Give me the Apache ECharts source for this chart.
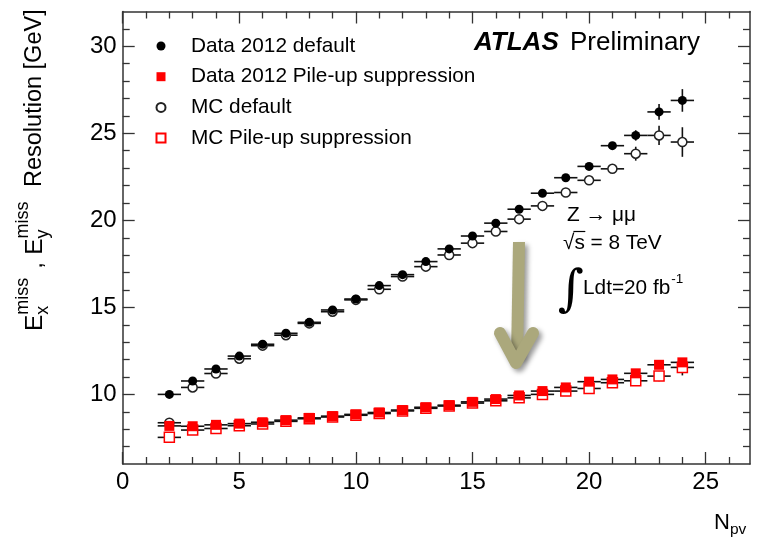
<!DOCTYPE html>
<html><head><meta charset="utf-8">
<script src="https://cdn.jsdelivr.net/npm/echarts@6/dist/echarts.min.js"></script>
<style>html,body{margin:0;padding:0;background:#fff}#c{width:757px;height:541px}</style>
</head><body><div id="c"></div>
<script>
// ---------- data ----------
const npv = [2,3,4,5,6,7,8,9,10,11,12,13,14,15,16,17,18,19,20,21,22,23,24];
const dataDefault = [10.0,10.77,11.46,12.2,12.88,13.51,14.14,14.85,15.48,16.25,16.88,17.63,18.36,19.1,19.84,20.64,21.56,22.45,23.1,24.29,24.88,26.23,26.89];
const dataDefaultErr = [0.08,0.08,0.08,0.08,0.08,0.08,0.08,0.08,0.08,0.08,0.08,0.08,0.08,0.08,0.08,0.1,0.1,0.1,0.15,0.2,0.3,0.45,0.65];
const mcDefault = [8.37,10.4,11.2,12.05,12.8,13.4,14.08,14.75,15.43,16.04,16.77,17.34,18.01,18.69,19.36,20.07,20.83,21.6,22.3,22.96,23.83,24.88,24.5];
const mcDefaultErr = [0.08,0.08,0.08,0.08,0.08,0.08,0.08,0.08,0.08,0.08,0.08,0.08,0.08,0.08,0.08,0.1,0.1,0.12,0.15,0.2,0.4,0.55,0.85];
const dataPU = [8.19,8.17,8.25,8.32,8.4,8.52,8.65,8.75,8.85,8.96,9.1,9.26,9.38,9.57,9.73,9.94,10.19,10.4,10.73,10.86,11.21,11.7,11.84];
const dataPUErr = [0.05,0.05,0.05,0.05,0.05,0.05,0.05,0.05,0.05,0.05,0.05,0.05,0.05,0.05,0.05,0.05,0.05,0.06,0.06,0.07,0.08,0.1,0.15];
const mcPU = [7.53,7.95,8.04,8.2,8.3,8.45,8.6,8.7,8.8,8.9,9.05,9.2,9.33,9.5,9.63,9.8,10.0,10.19,10.34,10.67,10.78,11.05,11.55];
const mcPUErr = [0.05,0.05,0.05,0.05,0.05,0.05,0.05,0.05,0.05,0.05,0.05,0.05,0.05,0.05,0.05,0.06,0.06,0.07,0.08,0.1,0.15,0.3,0.46];
const binHalfWidth = 0.5;
const xMajor = [0,5,10,15,20,25];
const xMinor = [1,2,3,4,6,7,8,9,11,12,13,14,16,17,18,19,21,22,23,24,26];
const yMajor = [10,15,20,25,30];
const yMinor = [7,8,9,11,12,13,14,16,17,18,19,21,22,23,24,26,27,28,29,31];
const seriesNames = ['Data 2012 default','Data 2012 Pile-up suppression','MC default','MC Pile-up suppression'];

// ---------- helpers ----------
const FONT = '"Liberation Sans", Arial, Helvetica, sans-serif';
const mctx = document.createElement('canvas').getContext('2d');
function tw(t, size, weight, style) {
  mctx.font = (style||'normal') + ' ' + (weight||'normal') + ' ' + size + 'px ' + FONT;
  return mctx.measureText(t).width;
}
function txt(t, x, y, size, opt) {
  opt = opt || {};
  return {
    type: 'text', x: x, y: y, silent: true,
    style: {
      text: t, fill: opt.fill || '#000',
      fontSize: size, fontFamily: opt.family || FONT,
      fontWeight: opt.weight || 'normal', fontStyle: opt.style || 'normal',
      align: opt.align || 'left', textAlign: opt.align || 'left',
      verticalAlign: 'middle', textVerticalAlign: 'middle'
    }
  };
}
// line of text with sub/superscripts
function richRow(parts) {
  let x = 0; const kids = [];
  parts.forEach(p => {
    if (p.gap) { x += p.gap; return; }
    if (p.stack) {
      let w = 0;
      p.stack.forEach(s => { kids.push(txt(s.t, x, s.dy, s.s)); w = Math.max(w, tw(s.t, s.s)); });
      x += w;
    } else {
      kids.push(txt(p.t, x, p.dy || 0, p.s));
      x += tw(p.t, p.s);
    }
  });
  return {kids, width: x};
}

function errSeries(ys, errs, color) {
  return {
    type: 'custom', silent: true, z: 1, xAxisIndex: 0, yAxisIndex: 0,
    encode: {x: 0, y: 1},
    data: npv.map((x, i) => [x, ys[i], errs[i]]),
    renderItem: function (params, api) {
      const x = api.value(0), y = api.value(1), e = api.value(2);
      const l = api.coord([x - binHalfWidth, y]), r = api.coord([x + binHalfWidth, y]);
      const t = api.coord([x, y + e]), b = api.coord([x, y - e]);
      return {type: 'group', children: [
        {type: 'line', shape: {x1: l[0], y1: l[1], x2: r[0], y2: r[1]}, style: {stroke: color, lineWidth: 1.6}},
        {type: 'line', shape: {x1: t[0], y1: t[1], x2: b[0], y2: b[1]}, style: {stroke: color, lineWidth: 1.6}}
      ]};
    }
  };
}
function pts(ys) { return npv.map((x, i) => [x, ys[i]]); }

const frameColor = '#333';
const X_MAX = 26.9, Y_MIN = 6, Y_MAX = 32;
function xAx(pos, ticks, len, showLine, labels) {
  return {
    type: 'value', gridIndex: 0, position: pos, min: 0, max: X_MAX,
    axisLine: {show: showLine, onZero: false, lineStyle: {color: frameColor, width: 1.5}},
    axisTick: {show: true, inside: true, length: len, customValues: ticks, lineStyle: {color: frameColor, width: 1.3}},
    axisLabel: labels ? {show: true, customValues: ticks, fontSize: 24, fontFamily: FONT, color: '#000', margin: 6} : {show: false},
    splitLine: {show: false}
  };
}
function yAx(pos, ticks, len, showLine, labels) {
  return {
    type: 'value', gridIndex: 0, position: pos, min: Y_MIN, max: Y_MAX,
    axisLine: {show: showLine, onZero: false, lineStyle: {color: frameColor, width: 1.5}},
    axisTick: {show: true, inside: true, length: len, customValues: ticks, lineStyle: {color: frameColor, width: 1.3}},
    axisLabel: labels ? {show: true, customValues: ticks, fontSize: 24, fontFamily: FONT, color: '#000', margin: 6} : {show: false},
    splitLine: {show: false}
  };
}

// ---------- y-axis title (rotated) ----------
const yTitle = richRow([
  {t: 'E', s: 24.5},
  {stack: [{t: 'miss', s: 18, dy: -12}, {t: 'x', s: 18, dy: 8}]},
  {gap: 9},
  {t: ',', s: 24.5},
  {gap: 7},
  {t: 'E', s: 24.5},
  {stack: [{t: 'miss', s: 18, dy: -12}, {t: 'y', s: 18, dy: 8}]},
  {gap: 8},
  {t: ' Resolution [GeV]', s: 23.5}
]);
const xTitle = richRow([
  {t: 'N', s: 22},
  {t: 'pv', s: 15.5, dy: 7}
]);

const arrowColor = '#aba87c';
const ANN = 20.8;
const sqrtW = tw('\u221A', ANN), sW = tw('s', ANN);
const ldtW = tw('Ldt=20 fb', ANN);

const option = {
  animation: false,
  backgroundColor: '#fff',
  grid: {left: 122.7, right: 7, top: 11.5, bottom: 77, containLabel: false},
  xAxis: [
    xAx('bottom', xMajor, 12, true, true),
    xAx('bottom', xMinor, 7, false, false),
    xAx('top', xMajor, 12, true, false),
    xAx('top', xMinor, 7, false, false)
  ],
  yAxis: [
    yAx('left', yMajor, 12, true, true),
    yAx('left', yMinor, 7, false, false),
    yAx('right', yMajor, 12, true, false),
    yAx('right', yMinor, 7, false, false)
  ],
  legend: {
    orient: 'vertical', left: 155.5, top: 35.5, padding: 0,
    itemWidth: 9, itemHeight: 9, itemGap: 9.7,
    selectedMode: false,
    textStyle: {fontSize: 20.8, fontFamily: FONT, color: '#000', lineHeight: 21, padding: [0, 0, 0, 20.5]},
    data: seriesNames
  },
  series: [
    errSeries(mcPU, mcPUErr, '#111'),
    errSeries(mcDefault, mcDefaultErr, '#111'),
    errSeries(dataPU, dataPUErr, '#111'),
    errSeries(dataDefault, dataDefaultErr, '#111'),
    {name: seriesNames[3], type: 'scatter', z: 2, symbol: 'rect', symbolSize: 10, data: pts(mcPU),
      itemStyle: {color: '#fff', borderColor: '#ff0000', borderWidth: 1.5, opacity: 1}},
    {name: seriesNames[2], type: 'scatter', z: 2, symbol: 'circle', symbolSize: 9, data: pts(mcDefault),
      itemStyle: {color: '#fff', borderColor: '#222', borderWidth: 1.5, opacity: 1}},
    {name: seriesNames[1], type: 'scatter', z: 2, symbol: 'rect', symbolSize: 10, data: pts(dataPU),
      itemStyle: {color: '#ff0000', opacity: 1}},
    {name: seriesNames[0], type: 'scatter', z: 2, symbol: 'circle', symbolSize: 9, data: pts(dataDefault),
      itemStyle: {color: '#000', opacity: 1}}
  ],
  graphic: [
    // y-axis title
    {type: 'group', x: 35, y: 331, rotation: Math.PI / 2, children: yTitle.kids},
    // x-axis title
    {type: 'group', x: 714, y: 523, children: xTitle.kids},
    // ATLAS Preliminary
    txt('ATLAS', 474, 42.5, 26, {weight: 'bold', style: 'italic'}),
    txt('Preliminary', 570, 42.5, 26),
    // annotations
    txt('Z \u2192 \u03BC\u03BC', 567, 215, ANN),
    txt('\u221As = 8 TeV', 563, 243, ANN),
    {type: 'line', silent: true, shape: {x1: 563 + sqrtW - 1, y1: 231.5, x2: 563 + sqrtW + sW + 0.5, y2: 231.5}, style: {stroke: '#000', lineWidth: 1.2}},
    txt('\u222B', 558, 292, 50, {family: '"DejaVu Serif", serif', style: 'italic'}),
    txt('Ldt=20 fb', 583, 288, ANN),
    txt('-1', 583 + ldtW + 1, 279, 13.5),
    // arrow
    {type: 'group', silent: true, children: [
      {type: 'polyline', shape: {points: [[519, 242], [517, 358]]},
        style: {stroke: arrowColor, lineWidth: 12, lineCap: 'butt', shadowBlur: 5, shadowOffsetX: 3, shadowOffsetY: 3, shadowColor: 'rgba(0,0,0,0.4)'}},
      {type: 'polyline', shape: {points: [[500, 333], [516, 363], [533, 333]]},
        style: {stroke: arrowColor, lineWidth: 12, lineCap: 'round', lineJoin: 'round', shadowBlur: 5, shadowOffsetX: 3, shadowOffsetY: 3, shadowColor: 'rgba(0,0,0,0.4)'}}
    ]}
  ]
};
const chart = echarts.init(document.getElementById('c'), null, {renderer: 'canvas'});
chart.setOption(option);
</script>
</body></html>
